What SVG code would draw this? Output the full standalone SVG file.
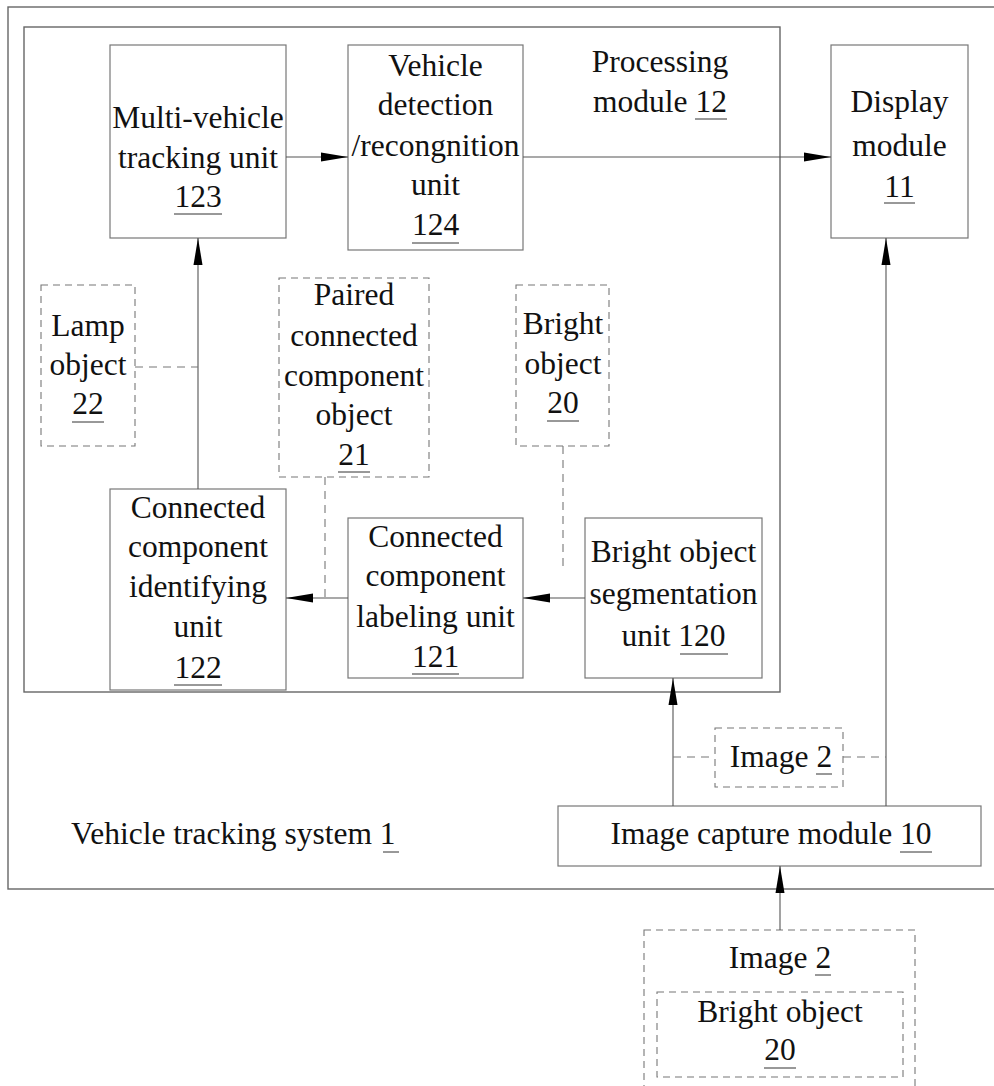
<svg xmlns="http://www.w3.org/2000/svg" width="994" height="1086" viewBox="0 0 994 1086">
<style>
text{font-family:"Liberation Serif","Times New Roman",serif;font-size:31.5px;fill:#111;text-anchor:middle}
.box{fill:#fff;stroke:#777;stroke-width:1.2}
.frame{fill:none;stroke:#666;stroke-width:1.4}
.dbox{fill:none;stroke:#777;stroke-width:1.1;stroke-dasharray:7 5}
.ln{stroke:#555;stroke-width:1.1;fill:none}
.dl{stroke:#777;stroke-width:1.1;fill:none;stroke-dasharray:8 6}
.ul{stroke:#333;stroke-width:1}
.st{text-anchor:start}
</style>
<defs>
<marker id="ah" viewBox="0 0 27 10" refX="27" refY="5" markerWidth="27" markerHeight="10" markerUnits="userSpaceOnUse" orient="auto">
<path d="M0,0.5 L27,5 L0,9.5 z" fill="#000"/>
</marker>
</defs>
<rect width="994" height="1086" fill="#fff"/>
<g id="system1">
<rect class="frame" x="8" y="7" width="1000" height="882"/>
<text class="st" x="71" y="844">Vehicle tracking system 1</text>
<line class="ul" x1="383" y1="852" x2="399" y2="852"/>
</g>
<g id="processing12">
<rect class="frame" x="24" y="27" width="756" height="665"/>
<text x="660" y="72">Processing</text>
<text x="660" y="112">module 12</text>
<line class="ul" x1="695" y1="119" x2="727" y2="119"/>
</g>
<g id="unit123">
<rect class="box" x="110" y="45" width="176" height="193"/>
<text x="198" y="128">Multi-vehicle</text>
<text x="198" y="167.5">tracking unit</text>
<text x="198" y="207">123</text>
<line class="ul" x1="174" y1="214" x2="222" y2="214"/>
</g>
<g id="unit124">
<rect class="box" x="348" y="45" width="175" height="205"/>
<text x="435.5" y="76">Vehicle</text>
<text x="435.5" y="115">detection</text>
<text x="435.5" y="156">/recongnition</text>
<text x="435.5" y="195">unit</text>
<text x="435.5" y="235">124</text>
<line class="ul" x1="412" y1="243" x2="459" y2="243"/>
</g>
<g id="display11">
<rect class="box" x="831" y="45" width="137" height="193"/>
<text x="899.5" y="112">Display</text>
<text x="899.5" y="156">module</text>
<text x="899.5" y="197">11</text>
<line class="ul" x1="884" y1="203" x2="915" y2="203"/>
</g>
<g id="lamp22">
<rect class="dbox" x="41" y="285" width="94" height="161"/>
<text x="88" y="336">Lamp</text>
<text x="88" y="375">object</text>
<text x="88" y="414">22</text>
<line class="ul" x1="72" y1="422" x2="104" y2="422"/>
</g>
<g id="paired21">
<rect class="dbox" x="279" y="278" width="150" height="199"/>
<text x="354" y="305">Paired</text>
<text x="354" y="346">connected</text>
<text x="354" y="386">component</text>
<text x="354" y="425">object</text>
<text x="354" y="465">21</text>
<line class="ul" x1="338" y1="472" x2="370" y2="472"/>
</g>
<g id="bright20">
<rect class="dbox" x="516" y="285" width="93" height="161"/>
<text x="563" y="334">Bright</text>
<text x="563" y="374">object</text>
<text x="563" y="413">20</text>
<line class="ul" x1="547" y1="421" x2="579" y2="421"/>
</g>
<g id="unit122">
<rect class="box" x="110" y="489" width="176" height="201"/>
<text x="198" y="518">Connected</text>
<text x="198" y="557">component</text>
<text x="198" y="597">identifying</text>
<text x="198" y="637">unit</text>
<text x="198" y="678">122</text>
<line class="ul" x1="174" y1="685" x2="222" y2="685"/>
</g>
<g id="unit121">
<rect class="box" x="348" y="518" width="175" height="160"/>
<text x="435.5" y="547">Connected</text>
<text x="435.5" y="586">component</text>
<text x="435.5" y="627">labeling unit</text>
<text x="435.5" y="667">121</text>
<line class="ul" x1="412" y1="674" x2="459" y2="674"/>
</g>
<g id="unit120">
<rect class="box" x="585" y="518" width="177" height="160"/>
<text x="673.5" y="562">Bright object</text>
<text x="673.5" y="604">segmentation</text>
<text x="673.5" y="646">unit 120</text>
<line class="ul" x1="680" y1="654" x2="728" y2="654"/>
</g>
<g id="image2a">
<rect class="dbox" x="715" y="728" width="128" height="59"/>
<text x="781" y="767">Image 2</text>
<line class="ul" x1="816" y1="774" x2="832" y2="774"/>
</g>
<g id="capture10">
<rect class="box" x="558" y="806" width="423" height="60"/>
<text x="771" y="844">Image capture module 10</text>
<line class="ul" x1="900" y1="852" x2="932" y2="852"/>
</g>
<g id="image2b">
<rect class="dbox" x="644" y="930" width="271" height="170"/>
<text x="780" y="968">Image 2</text>
<line class="ul" x1="815" y1="975" x2="831" y2="975"/>
</g>
<g id="bright20b">
<rect class="dbox" x="657" y="992" width="246" height="85"/>
<text x="780" y="1022">Bright object</text>
<text x="780" y="1060">20</text>
<line class="ul" x1="764" y1="1068" x2="796" y2="1068"/>
</g>
<g id="connectors">
<line class="ln" x1="286" y1="157" x2="348" y2="157" marker-end="url(#ah)"/>
<line class="ln" x1="523" y1="157" x2="831" y2="157" marker-end="url(#ah)"/>
<line class="ln" x1="198" y1="489" x2="198" y2="238" marker-end="url(#ah)"/>
<line class="dl" x1="135" y1="367" x2="198" y2="367"/>
<line class="ln" x1="348" y1="598" x2="286" y2="598" marker-end="url(#ah)"/>
<line class="dl" x1="325" y1="477" x2="325" y2="598"/>
<line class="ln" x1="585" y1="598" x2="523" y2="598" marker-end="url(#ah)"/>
<line class="dl" x1="563" y1="446" x2="563" y2="567"/>
<line class="ln" x1="673" y1="806" x2="673" y2="678" marker-end="url(#ah)"/>
<line class="ln" x1="886" y1="806" x2="886" y2="238" marker-end="url(#ah)"/>
<line class="dl" x1="673" y1="757" x2="715" y2="757"/>
<line class="dl" x1="843" y1="757" x2="886" y2="757"/>
<line class="ln" x1="780" y1="930" x2="780" y2="866" marker-end="url(#ah)"/>
</g>
</svg>
